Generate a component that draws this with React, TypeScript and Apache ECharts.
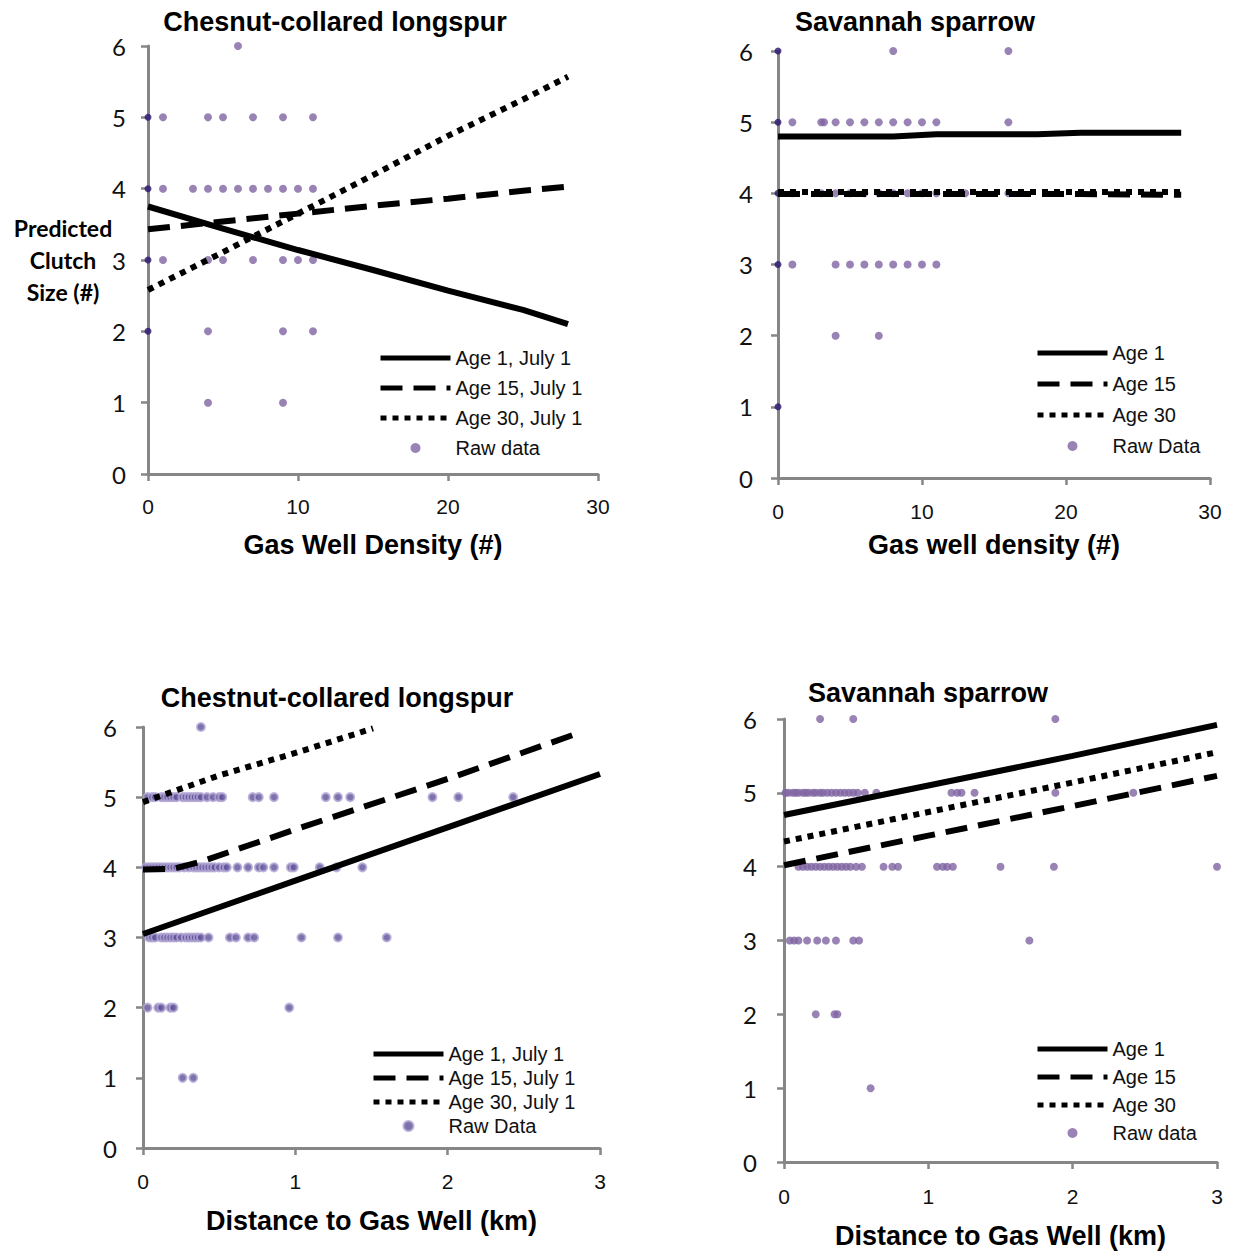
import React, { useEffect, useRef } from "react";
import * as echarts from "echarts";

// ---------- Panel 1: Chesnut-collared longspur vs gas well density ----------
const p1LineX = [0, 5, 10, 15, 20, 25, 28];
const p1Age1 = [3.75, 3.44, 3.14, 2.86, 2.57, 2.3, 2.1];
const p1Age15 = [3.43, 3.54, 3.65, 3.76, 3.86, 3.97, 4.03];
const p1Age30 = [2.58, 3.11, 3.65, 4.19, 4.74, 5.25, 5.57];
const p1Raw6 = [6];
const p1Raw5 = [0, 1, 4, 5, 7, 9, 11];
const p1Raw4 = [0, 1, 3, 4, 5, 6, 7, 8, 9, 10, 11];
const p1Raw3 = [0, 1, 4, 5, 7, 9, 10, 11];
const p1Raw2 = [0, 4, 9, 11];
const p1Raw1 = [4, 9];

// ---------- Panel 2: Savannah sparrow vs gas well density ----------
const p2LineX = [0, 8, 11, 18, 21, 28];
const p2Age1 = [4.8, 4.8, 4.83, 4.83, 4.85, 4.85];
const p2Age15 = [3.99, 3.99, 3.99, 3.99, 3.99, 3.98];
const p2Age30 = [4.02, 4.02, 4.02, 4.02, 4.02, 4.02];
const p2Raw6 = [0, 8, 16];
const p2Raw5 = [0, 1, 3, 3.2, 4, 5, 6, 7, 8, 9, 10, 11, 16];
const p2Raw4 = [0, 1, 3, 4, 5, 6, 7, 8, 9, 10, 11, 13, 16];
const p2Raw3 = [0, 1, 4, 5, 6, 7, 8, 9, 10, 11];
const p2Raw2 = [4, 7];
const p2Raw1 = [0];

// ---------- Panel 3: Chestnut-collared longspur vs distance ----------
const p3Age1X = [0, 1, 2, 3];
const p3Age1 = [3.05, 3.81, 4.57, 5.33];
const p3Age15X = [0, 0.2, 0.38, 1, 2, 2.88];
const p3Age15 = [3.97, 3.98, 4.08, 4.54, 5.26, 5.93];
const p3Age30X = [0, 0.5, 1, 1.51];
const p3Age30 = [4.93, 5.31, 5.63, 5.98];
const p3Raw6 = [0.38];
const p3Raw5 = [0.03, 0.06, 0.08, 0.12, 0.14, 0.16, 0.18, 0.2, 0.22, 0.26, 0.28, 0.3, 0.32, 0.34, 0.36, 0.38, 0.42, 0.46, 0.5, 0.52, 0.72, 0.76, 0.86, 1.2, 1.28, 1.36, 1.9, 2.07, 2.43];
const p3Raw4 = [0.02, 0.04, 0.06, 0.08, 0.1, 0.12, 0.14, 0.16, 0.18, 0.2, 0.22, 0.24, 0.27, 0.3, 0.33, 0.35, 0.37, 0.39, 0.41, 0.43, 0.45, 0.47, 0.5, 0.53, 0.55, 0.62, 0.69, 0.76, 0.79, 0.86, 0.97, 0.99, 1.16, 1.27, 1.44];
const p3Raw3 = [0.04, 0.06, 0.08, 0.12, 0.14, 0.16, 0.18, 0.2, 0.22, 0.25, 0.28, 0.3, 0.32, 0.34, 0.36, 0.38, 0.43, 0.57, 0.61, 0.69, 0.73, 1.04, 1.28, 1.6];
const p3Raw2 = [0.03, 0.1, 0.12, 0.18, 0.2, 0.96];
const p3Raw1 = [0.26, 0.33];

// ---------- Panel 4: Savannah sparrow vs distance ----------
const p4LineX = [0, 1, 2, 3];
const p4Age1 = [4.7, 5.1, 5.5, 5.92];
const p4Age15 = [4.02, 4.42, 4.82, 5.23];
const p4Age30 = [4.34, 4.74, 5.14, 5.55];
const p4Raw6 = [0.25, 0.48, 1.88];
const p4Raw5 = [0.01, 0.03, 0.06, 0.08, 0.1, 0.13, 0.15, 0.17, 0.2, 0.22, 0.25, 0.27, 0.3, 0.33, 0.36, 0.39, 0.42, 0.45, 0.48, 0.51, 0.56, 0.64, 1.16, 1.2, 1.23, 1.32, 1.88, 2.42];
const p4Raw4 = [0.1, 0.13, 0.16, 0.19, 0.22, 0.25, 0.28, 0.31, 0.34, 0.37, 0.4, 0.43, 0.46, 0.5, 0.54, 0.69, 0.75, 0.79, 1.06, 1.1, 1.13, 1.17, 1.5, 1.87, 3.0];
const p4Raw3 = [0.04, 0.07, 0.1, 0.16, 0.23, 0.29, 0.36, 0.48, 0.52, 1.7];
const p4Raw2 = [0.22, 0.35, 0.37];
const p4Raw1 = [0.6];

// ---------- Text ----------
const titles = ["Chesnut-collared longspur", "Savannah sparrow", "Chestnut-collared longspur", "Savannah sparrow"];
const xNames = ["Gas Well Density (#)", "Gas well density (#)", "Distance to Gas Well (km)", "Distance to Gas Well (km)"];
const yNameLines = ["Predicted", "Clutch", "Size (#)"];
const legendLabels: Record<string, string> = {
  p1a1: "Age 1, July 1", p1a15: "Age 15, July 1", p1a30: "Age 30, July 1", p1raw: "Raw data",
  p2a1: "Age 1", p2a15: "Age 15", p2a30: "Age 30", p2raw: "Raw Data",
  p3a1: "Age 1, July 1", p3a15: "Age 15, July 1", p3a30: "Age 30, July 1", p3raw: "Raw Data",
  p4a1: "Age 1", p4a15: "Age 15", p4a30: "Age 30", p4raw: "Raw data",
};

const SANS = '"Liberation Sans", Arial, sans-serif';
const CAL = 'Lato, "Open Sans", sans-serif';
const PURPLE = "#8064A2";
const DARK = "#2a1470";

function rows(r6: number[], r5: number[], r4: number[], r3: number[], r2: number[], r1: number[]) {
  const out: any[] = [];
  const add = (xs: number[], y: number) => xs.forEach((x) => {
    if (x === 0) out.push({ value: [x, y], itemStyle: { color: DARK }, symbolSize: 7 });
    else out.push([x, y]);
  });
  add(r6, 6); add(r5, 5); add(r4, 4); add(r3, 3); add(r2, 2); add(r1, 1);
  return out;
}
const zip = (xs: number[], ys: number[]) => xs.map((x, i) => [x, ys[i]]);

export default function App() {
  const ref = useRef<HTMLDivElement>(null);
  useEffect(() => {
    document.body.style.margin = "0";
    const chart = echarts.init(ref.current!, null, { renderer: "svg" });

    const grids = [
      { left: 148, top: 46, width: 450, height: 428 },
      { left: 778, top: 51, width: 432, height: 427 },
      { left: 143, top: 727, width: 457, height: 421 },
      { left: 784, top: 719, width: 433, height: 443 },
    ];
    const xMax = [30, 30, 3, 3];
    const xInt = [10, 10, 1, 1];
    const xLabelMargin = [22, 23, 23, 24];
    const xNameGap = [57, 53, 59, 60];
    const yLabelMargin = [22, 25, 26, 27];

    const axisLine = { show: true, onZero: false, lineStyle: { color: "#868686", width: 3 } };
    const axisTick = { show: true, length: 7, lineStyle: { color: "#868686", width: 2.5 } };

    const xAxis = grids.map((_, i) => ({
      type: "value", gridIndex: i, min: 0, max: xMax[i], interval: xInt[i],
      axisLine, axisTick, splitLine: { show: false },
      axisLabel: { margin: xLabelMargin[i], fontFamily: SANS, fontSize: 21, color: "#111" },
      name: xNames[i], nameLocation: "middle", nameGap: xNameGap[i],
      nameTextStyle: { fontFamily: SANS, fontWeight: "bold", fontSize: 27, color: "#000" },
    }));
    const yAxis = grids.map((_, i) => ({
      type: "value", gridIndex: i, min: 0, max: 6, interval: 1,
      axisLine, axisTick, splitLine: { show: false },
      axisLabel: { margin: yLabelMargin[i], fontFamily: CAL, fontSize: 24, color: "#111" },
    }));

    const line = (id: string, idx: number, data: number[][], type: any) => ({
      id, name: id, type: "line", xAxisIndex: idx, yAxisIndex: idx, data,
      symbol: "none", showSymbol: false, z: 3,
      lineStyle: { color: "#000", width: 6, type, cap: "butt" },
      itemStyle: { color: "#000" },
    });
    const scatter = (id: string, idx: number, data: any[], style: any, size: number) => ({
      id, name: id, type: "scatter", xAxisIndex: idx, yAxisIndex: idx, data,
      symbol: "circle", symbolSize: size, itemStyle: style, z: 2,
    });

    const DASH = [22, 11];
    const DOT = [6, 6];

    const series = [
      scatter("p1raw", 0, rows(p1Raw6, p1Raw5, p1Raw4, p1Raw3, p1Raw2, p1Raw1), { color: PURPLE }, 8),
      line("p1a1", 0, zip(p1LineX, p1Age1), "solid"),
      line("p1a15", 0, zip(p1LineX, p1Age15), DASH),
      line("p1a30", 0, zip(p1LineX, p1Age30), DOT),

      scatter("p2raw", 1, rows(p2Raw6, p2Raw5, p2Raw4, p2Raw3, p2Raw2, p2Raw1), { color: PURPLE }, 8),
      line("p2a1", 1, zip(p2LineX, p2Age1), "solid"),
      line("p2a15", 1, zip(p2LineX, p2Age15), DASH),
      line("p2a30", 1, zip(p2LineX, p2Age30), DOT),

      scatter("p3raw", 2, rows(p3Raw6, p3Raw5, p3Raw4, p3Raw3, p3Raw2, p3Raw1), { color: "#5e4f98", borderColor: "#b3a8d4", borderWidth: 2 }, 8),
      line("p3a1", 2, zip(p3Age1X, p3Age1), "solid"),
      line("p3a15", 2, zip(p3Age15X, p3Age15), DASH),
      line("p3a30", 2, zip(p3Age30X, p3Age30), DOT),

      scatter("p4raw", 3, rows(p4Raw6, p4Raw5, p4Raw4, p4Raw3, p4Raw2, p4Raw1), { color: PURPLE }, 8),
      line("p4a1", 3, zip(p4LineX, p4Age1), "solid"),
      line("p4a15", 3, zip(p4LineX, p4Age15), DASH),
      line("p4a30", 3, zip(p4LineX, p4Age30), DOT),
    ];

    const legendPos = [
      { left: 378, top: 347, gap: 8 },
      { left: 1035, top: 342, gap: 9 },
      { left: 371, top: 1043, gap: 2 },
      { left: 1035, top: 1038, gap: 6 },
    ];
    const hideSym = { color: "rgba(0,0,0,0)", borderColor: "rgba(0,0,0,0)", borderWidth: 0 };
    const legend = legendPos.map((p, i) => ({
      left: p.left, top: p.top, orient: "vertical", itemWidth: 70, itemHeight: 10, itemGap: p.gap,
      padding: 0, selectedMode: false,
      lineStyle: { width: 5 },
      data: [
        { name: `p${i + 1}a1`, itemStyle: hideSym },
        { name: `p${i + 1}a15`, itemStyle: hideSym },
        { name: `p${i + 1}a30`, itemStyle: hideSym },
        { name: `p${i + 1}raw` },
      ],
      formatter: (n: string) => legendLabels[n],
      textStyle: { fontFamily: SANS, fontSize: 20, color: "#111", lineHeight: 22 },
    }));

    const titlePos = [[335, 22], [915, 22], [337, 698], [928, 693]];
    const graphic: any[] = titlePos.map((p, i) => ({
      type: "text", x: p[0], y: p[1],
      style: { text: titles[i], align: "center", verticalAlign: "middle", fontFamily: SANS, fontWeight: "bold", fontSize: 27, fill: "#000" },
    }));
    yNameLines.forEach((t, i) => graphic.push({
      type: "text", x: 63, y: 228 + i * 32,
      style: { text: t, align: "center", verticalAlign: "middle", fontFamily: CAL, fontWeight: "bold", fontSize: 23, fill: "#000" },
    }));

    chart.setOption({
      animation: false,
      backgroundColor: "#fff",
      grid: grids.map((g) => ({ ...g, containLabel: false, outerBoundsMode: "none" })),
      xAxis, yAxis, series, legend, graphic,
    });
    return () => chart.dispose();
  }, []);
  return <div ref={ref} style={{ width: 1240, height: 1251 }} />;
}
